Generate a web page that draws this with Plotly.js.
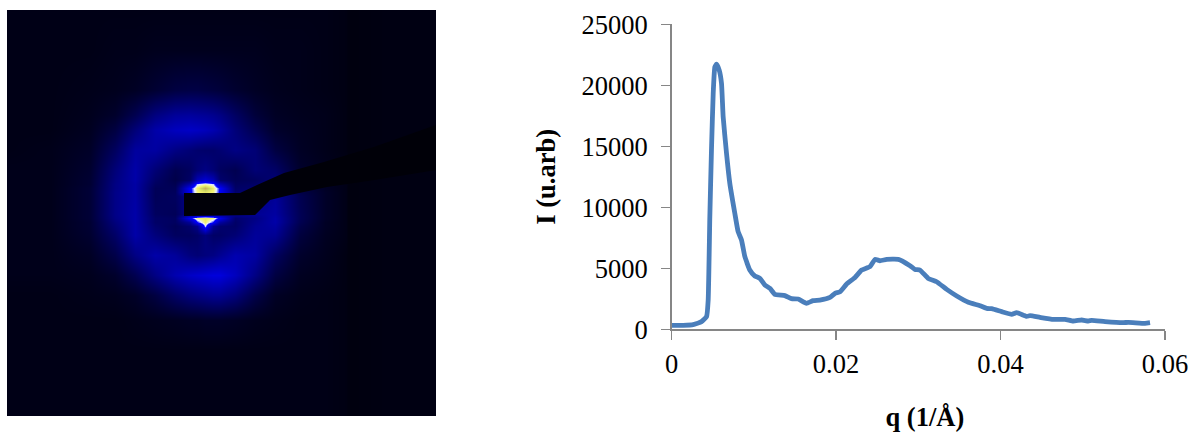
<!DOCTYPE html>
<html><head><meta charset="utf-8">
<script src="https://cdn.plot.ly/plotly-3.0.1.min.js"></script>
<style>html,body{margin:0;padding:0;background:#fff}#c{width:1195px;height:432px}</style>
</head><body><div id="c"></div>
<script>
const qValues=[0,.00142,.00263,.00365,.00426,.00446,.00466,.00486,.00507,.00527,.00547,.0058,.00608,.00628,.00669,.00709,.0077,.0081,.00851,.00892,.00952,.01013,.01074,.01135,.01196,.01256,.01378,.01459,.0154,.01641,.01722,.01803,.01927,.01988,.02049,.0213,.02231,.02312,.02413,.02474,.02535,.02616,.02758,.029,.0296,.03021,.03122,.03224,.03346,.03468,.03609,.03751,.03832,.03893,.04014,.04136,.04197,.04319,.04359,.0448,.04642,.04784,.04885,.04987,.05068,.05109,.05271,.05493,.05554,.05757,.05818];
const intensity=[328,328,382,628,1037,2400,9230,14690,19330,21500,21730,21240,20150,17420,14410,11960,9500,8000,7320,5950,4860,4370,4180,3630,3360,2870,2760,2510,2480,2130,2350,2400,2615,2945,3080,3710,4250,4855,5130,5730,5620,5730,5730,5210,4910,4855,4170,3900,3270,2730,2210,1935,1717,1690,1445,1226,1362,1062,1117,980,816,816,680,762,680,734,625,543,570,489,543];
const xTickVals=[0,.02,.04,.06];
const xTickText=["0","0.02","0.04","0.06"];
const yTickVals=[0,5000,10000,15000,20000,25000];
const yTickText=["0","5000","10000","15000","20000","25000"];
const xTitle="\u00a0\u00a0q (1/Å)";
const yTitle="I (u.arb)";
// detector image, read by eye (page pixels)
const detX=[7,50,90,115,135,155,175,190,197,205,213,220,235,255,275,300,325,346,348,390,436];
const detY=[10,50,90,115,130,150,170,180,184,188,192,196,214,218,222,226,235,255,275,295,320,350,400,416];
const detZ=[
[6,6,6,6,6,6,6,6,6,6,6,6,6,6,6,6,6,5,4,5,5],
[6,6,6,7,7,8,8,8,8,8,8,8,8,8,7,7,6,5,4,5,5],
[6,6,7,8,10,14,18,19,19,18,17,16,13,10,8,7,6,5,4,5,5],
[6,6,8,12,22,35,42,43,42,41,39,36,27,16,10,8,7,5,4,5,5],
[6,6,9,18,33,46,52,54,53,51,48,44,33,22,12,9,7,5,4,5,5],
[6,7,11,26,43,44,36,32,30,29,29,31,36,32,18,10,7,5,4,5,5],
[7,7,13,33,46,32,22,26,32,36,32,26,22,32,28,12,8,6,4,5,5],
[7,7,14,35,46,28,20,28,50,58,50,30,24,26,32,15,9,6,4,5,5],
[7,7,14,36,45,26,22,48,76,80,76,50,26,28,34,16,10,6,4,5,5],
[7,7,15,36,45,24,24,68,84,94,84,68,28,30,37,18,10,6,4,5,5],
[7,7,15,37,45,24,25,68,82,86,82,68,30,32,40,20,11,6,4,5,5],
[7,7,15,37,45,24,26,40,40,40,40,40,30,32,42,22,11,6,4,5,5],
[7,7,15,37,46,26,24,40,40,40,40,40,40,40,44,23,11,6,4,5,5],
[7,7,15,36,46,28,26,66,82,85,82,64,30,36,46,23,11,6,4,5,5],
[7,7,14,34,46,28,26,42,70,84,70,44,28,38,46,22,10,6,4,5,5],
[7,7,14,32,46,30,24,30,38,76,38,30,28,40,44,20,10,6,4,5,5],
[7,7,13,28,46,34,26,26,28,34,28,28,32,42,40,17,9,6,4,5,5],
[7,7,10,20,36,46,42,34,32,34,36,40,48,44,26,12,8,5,4,5,5],
[7,7,8,12,22,36,48,54,56,58,60,60,52,36,18,9,7,5,4,5,5],
[6,6,7,8,11,18,28,34,36,38,40,40,34,20,10,7,6,5,4,5,5],
[6,6,6,6,7,8,9,10,10,11,11,11,10,8,7,6,6,5,4,5,5],
[6,6,6,6,6,6,6,6,6,6,6,6,6,6,6,6,6,5,4,5,5],
[6,6,6,6,6,6,6,6,6,6,6,6,6,6,6,6,6,5,4,5,5],
[6,6,6,6,6,6,6,6,6,6,6,6,6,6,6,6,6,5,4,5,5]];
const stopX=[184,240,257,284,324,374,436,436,374,327,290,270,255,184];
const stopY=[193,193,185,173,162,147,125,170,180,187,195,200,215,216];

const W=1195,H=432;
const grey="#868686";
const font={family:'"Liberation Serif","Times New Roman",serif',size:26.5,color:"#000"};
const traces=[
{type:"heatmap",x:detX,y:detY,z:detZ,xaxis:"x2",yaxis:"y2",zmin:0,zmax:100,zsmooth:"best",showscale:false,hoverinfo:"skip",
 colorscale:[[0,"#000000"],[.7,"#0000ff"],[.77,"#e8f0ff"],[.83,"#f4f470"],[.9,"#c8d060"],[1,"#e07050"]]},
{type:"scatter",mode:"lines",x:stopX,y:stopY,xaxis:"x2",yaxis:"y2",fill:"toself",fillcolor:"#000008",line:{width:0},hoverinfo:"skip"},
{type:"scatter",mode:"lines",x:qValues,y:intensity,line:{color:"#4a7ebb",width:4.8,shape:"spline",smoothing:0.4},cliponaxis:false}
];
const layout={
 width:W,height:H,showlegend:false,paper_bgcolor:"#fff",plot_bgcolor:"rgba(0,0,0,0)",font,
 margin:{l:0,r:0,t:0,b:0},
 xaxis:{domain:[671.5/W,1165/W],range:[0,.06],tickvals:xTickVals,ticktext:xTickText,ticks:"outside",ticklen:9,tickwidth:1.5,tickcolor:grey,showgrid:false,zeroline:false,showline:true,linecolor:grey,linewidth:1.5,anchor:"y",ticklabelstandoff:1,
  title:{text:"<b>"+xTitle+"</b>",standoff:31,font}},
 yaxis:{domain:[(H-329.3)/H,(H-24.3)/H],range:[0,25000],tickvals:yTickVals,ticktext:yTickText,ticks:"outside",ticklen:9,tickwidth:1.5,tickcolor:grey,showgrid:false,zeroline:false,showline:true,linecolor:grey,linewidth:1.5,anchor:"x",ticklabelstandoff:8,
  title:{text:"<b>"+yTitle+"</b>",standoff:18,font}},
 xaxis2:{domain:[7/W,436/W],range:[7,436],visible:false,anchor:"y2"},
 yaxis2:{domain:[(H-416)/H,(H-10)/H],range:[416,10],visible:false,anchor:"x2"}
};
Plotly.newPlot("c",traces,layout,{displayModeBar:false,staticPlot:true});
</script></body></html>
